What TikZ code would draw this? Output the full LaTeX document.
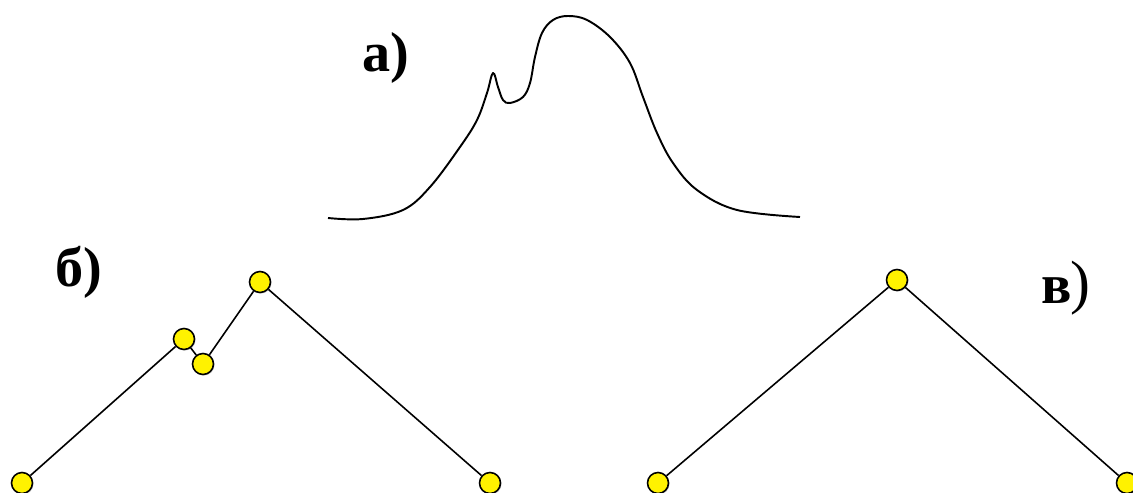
\documentclass[tikz,border=0pt]{standalone}
\usepackage{fontspec}
\setmainfont{Liberation Serif}
\usetikzlibrary{shadows}
\begin{document}
\begin{tikzpicture}[
    x=0.02cm, y=-0.02cm,
    vertex/.style={circle, draw, fill=yellow, minimum size=0.42cm, inner sep=0pt, line width=0.9pt,
        drop shadow={opacity=0.35, shadow xshift=0.6pt, shadow yshift=-0.6pt}},
    edge/.style={line width=0.9pt},
    curve/.style={line width=1.1pt, line join=round},
    lbl/.style={font=\fontsize{32}{36}\selectfont\bfseries, inner sep=0pt}
]
\useasboundingbox (0,0) rectangle (1133,493);

% ---- labels ----
\node[lbl] (la) at (386,58) {а)};
\node[lbl] (lb) at (79,272) {б)};
\node[lbl] (lc) at (1057,291) {в};
\node[font=\fontsize{34}{36}\selectfont, inner sep=0pt] (lcp) at (1080,288) {)};

% ---- curve ----
\draw[curve] plot[smooth, tension=0.6] coordinates {
  (328,218) (363,219) (403,210) (430,187) (460,147) (477,120) (487,93)
  (493,73) (498,87) (503,100) (510,103) (523,97) (530,83) (535,57)
  (542,33) (553,20) (568,16) (587,20) (610,37) (630,63) (643,97)
  (657,133) (673,163) (697,190) (737,210) (800,217)};

% ---- nodes ----
\node[vertex] (b1) at (22,483) {};
\node[vertex] (b2) at (184,339) {};
\node[vertex] (b3) at (203,364) {};
\node[vertex] (b4) at (260,282) {};
\node[vertex] (b5) at (490,483) {};

\node[vertex] (c1) at (658,483) {};
\node[vertex] (c2) at (897,280) {};
\node[vertex] (c3) at (1127,483) {};

% ---- edges ----
\draw[edge] (b1) -- (b2);
\draw[edge] (b2) -- (b3);
\draw[edge] (b3) -- (b4);
\draw[edge] (b4) -- (b5);

\draw[edge] (c1) -- (c2);
\draw[edge] (c2) -- (c3);

\end{tikzpicture}
\end{document}
